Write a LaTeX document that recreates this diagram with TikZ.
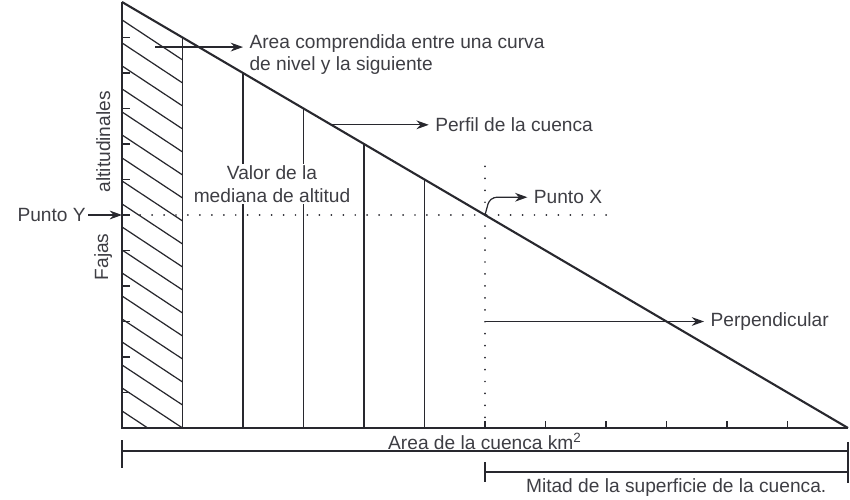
\documentclass[tikz,border=0pt]{standalone}
\usepackage{fontspec}
\setmainfont{Liberation Sans}
\usetikzlibrary{arrows.meta, positioning}
\definecolor{ink}{RGB}{40,40,46}
\definecolor{txt}{RGB}{62,62,68}

\begin{document}
\begin{tikzpicture}[x=1.21cm, y=0.71cm,  % una banda = 1 x 1
    color=ink, line width=0.8pt,
    every node/.style={text=txt, font=\fontsize{10.9}{12.6}\selectfont, align=left},
    arrow/.style={-{Stealth[length=7pt,width=5pt]}, line width=0.7pt},
    dots/.style={line width=1.1pt, dash pattern=on 0pt off 6.8pt, line cap=round},
    axis/.style={line width=1.5pt}
    ]
    \useasboundingbox (-2.0165,-2.028) rectangle (12.033,12.056);

    \coordinate (O) at (0,0);
    \coordinate (top) at (0,12);
    \coordinate (end) at (12,0);

    % franja rayada
    \begin{scope}
      \clip (0,0) -- (0,12) -- (1,11) -- (1,0) -- cycle;
      \foreach \k in {-1,...,17}
        \draw[line width=0.7pt] (-0.1,{1.24+0.648*\k}) -- ++(1.2,-1.352);
    \end{scope}

    % ejes y perfil
    \draw[axis] (top) -- (O) -- (end);
    \draw[line width=1.2pt] (top) -- (end);
    \draw (1,0) -- (1,11);
    \foreach \x in {2,...,5}
        \draw (\x,0) -- (\x,12-\x);
    \foreach \y in {1,...,11}
        \draw (0,\y) -- (0.14,\y);
    \foreach \x in {1,...,11}
        \draw (\x,0) -- (\x,0.2);

    % punto X
    \coordinate (X) at (6,6);
    \draw[dots] (6,0.3) -- (6,7.55);
    \draw[dots] (0.3,6) -- (8.15,6);

    \node[fill=white, inner sep=1pt, align=center] (median) at (2.48,6.87) {Valor de la\\mediana de altitud};

    % etiquetas
    \node[anchor=west] (area) at (2.0,10.52) {Area comprendida entre una curva\\de nivel y la siguiente};
    \node[anchor=west] (perfil) at (5.07,8.54) {Perfil de la cuenca};
    \node[anchor=west] (puntoX) at (6.7,6.5) {Punto X};
    \node[anchor=west] (perp) at (9.62,3) {Perpendicular};
    \node[anchor=east, inner sep=1pt] (puntoY) at (-0.56,6) {Punto Y};
    \node[rotate=90] (altit) at (-0.31,8.06) {altitudinales};
    \node[rotate=90] (fajas) at (-0.31,4.82) {Fajas};

    \coordinate (areaA) at (0.55,10.73);
    \coordinate (perfilA) at (3.46,8.54);
    \coordinate (perpA) at (6,3);

    \draw[arrow] (areaA) -- (areaA -| area.west);
    \draw[arrow] (perfilA) -- (perfil.west);
    \draw[arrow, rounded corners=4pt] (X) -- ++(0.08,0.5) -- (puntoX.west);
    \draw[arrow] (perpA) -- (perp.west);
    \draw[arrow] (puntoY.east) -- (0,6);

    % cotas
    \node (areakm) at (6,-0.38) {Area de la cuenca km\textsuperscript{2}};
    \draw (0,-0.34) -- (0,-1.13);
    \draw (0,-0.65) -- (12,-0.65);
    \draw (6,-0.96) -- (6,-1.52);
    \draw (6,-1.24) -- (12,-1.24);
    \draw (12,-0.39) -- (12,-1.55);
    \node[anchor=east] (mitad) at (11.75,-1.69) {Mitad de la superficie de la cuenca.};

\end{tikzpicture}
\end{document}
